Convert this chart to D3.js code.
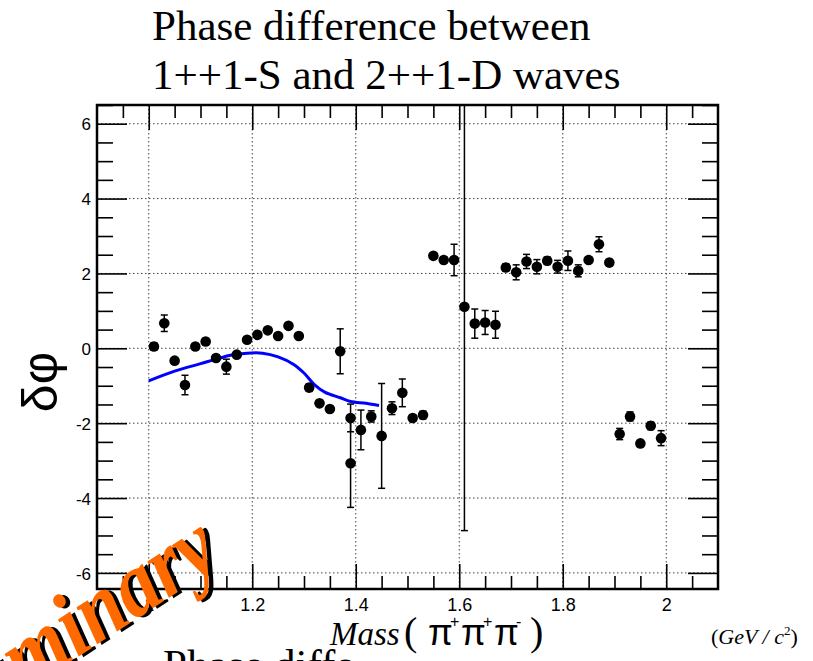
<!DOCTYPE html>
<html>
<head>
<meta charset="utf-8">
<script src="https://cdn.jsdelivr.net/npm/d3@7"></script>
<style>
  html, body { margin: 0; padding: 0; background: #fff; }
  svg { display: block; }
</style>
</head>
<body>
<svg id="chart" width="813" height="661"></svg>
<script>
// ---------------- data ----------------
const titleLines = ["Phase difference between", "1++1-S and 2++1-D waves"];
const xTickValues = [1, 1.2, 1.4, 1.6, 1.8, 2];
const xTickLabels = ["1", "1.2", "1.4", "1.6", "1.8", "2"];
const yTickValues = [-6, -4, -2, 0, 2, 4, 6];
const yTickLabels = ["-6", "-4", "-2", "0", "2", "4", "6"];

const massPoints = [1.01, 1.03, 1.05, 1.07, 1.09, 1.11, 1.13, 1.15, 1.17, 1.19,
  1.21, 1.23, 1.25, 1.27, 1.29, 1.31, 1.33, 1.35, 1.37, 1.39, 1.39,
  1.41, 1.43, 1.45, 1.47, 1.49, 1.51, 1.53, 1.55, 1.57, 1.59,
  1.61, 1.63, 1.65, 1.67, 1.69, 1.71, 1.73, 1.75, 1.77, 1.79,
  1.81, 1.83, 1.85, 1.87, 1.89, 1.91, 1.93, 1.95, 1.97, 1.99];
const phasePoints = [0.05, 0.67, -0.33, -0.98, 0.05, 0.18, -0.26, -0.49, -0.17, 0.23,
  0.36, 0.48, 0.33, 0.60, 0.33, -1.05, -1.47, -1.62, -0.08, -1.86, -3.07,
  -2.18, -1.82, -2.34, -1.60, -1.19, -1.86, -1.78, 2.47, 2.36, 2.36,
  1.11, 0.66, 0.69, 0.63, 2.16, 2.03, 2.32, 2.18, 2.34, 2.18,
  2.34, 2.07, 2.36, 2.78, 2.29, -2.29, -1.82, -2.54, -2.07, -2.40];
const phaseErrors = [0.10, 0.22, 0.08, 0.26, 0.06, 0.08, 0.08, 0.20, 0.06, 0.06,
  0.06, 0.06, 0.06, 0.08, 0.06, 0.10, 0.08, 0.08, 0.60, 0.37, 1.18,
  0.53, 0.15, 1.40, 0.17, 0.37, 0.08, 0.10, 0.08, 0.08, 0.42,
  5.98, 0.39, 0.32, 0.36, 0.10, 0.20, 0.19, 0.19, 0.10, 0.17,
  0.26, 0.16, 0.08, 0.20, 0.08, 0.15, 0.12, 0.08, 0.10, 0.20];

const fitMass = [1.00, 1.05, 1.10, 1.13, 1.16, 1.19, 1.22, 1.25, 1.28, 1.30,
  1.32, 1.34, 1.37, 1.39, 1.42, 1.445];
const fitPhase = [-0.87, -0.61, -0.41, -0.29, -0.18, -0.13, -0.13, -0.23, -0.43, -0.66,
  -0.97, -1.17, -1.32, -1.42, -1.47, -1.53];

// ---------------- layout ----------------
const svg = d3.select("#chart");
const L = 97, R = 718, T = 105, B = 589;
const x = d3.scaleLinear().domain([0.9, 2.1]).range([L, R]);
const y = d3.scaleLinear().domain([-6.43, 6.5]).range([B, T]);
const serif = "'Liberation Serif', 'Times New Roman', serif";
const sans = "'Liberation Sans', Arial, sans-serif";

svg.append("rect").attr("width", 813).attr("height", 661).attr("fill", "#fff");

// title
svg.append("g").selectAll("text").data(titleLines).join("text")
  .attr("x", 152).attr("y", (d, i) => 39.5 + i * 49.5)
  .attr("font-family", serif)
  .attr("font-size", 43).attr("fill", "#000").text(d => d);

// clipped second title at bottom (partly hidden behind the axis-title box)
svg.append("text").attr("x", 163).attr("y", 679)
  .attr("font-family", serif)
  .attr("font-size", 43).attr("fill", "#000").text(titleLines[0]);
svg.append("rect").attr("x", 352).attr("y", 608).attr("width", 300).attr("height", 53)
  .attr("fill", "#fff");

// grid
const grid = svg.append("g").attr("stroke", "#444").attr("stroke-width", 1)
  .attr("stroke-dasharray", "1.5,2.5");
grid.selectAll(".gx").data(xTickValues).join("line")
  .attr("x1", d => x(d)).attr("x2", d => x(d)).attr("y1", T).attr("y2", B);
grid.selectAll(".gy").data(yTickValues).join("line")
  .attr("y1", d => y(d)).attr("y2", d => y(d)).attr("x1", L).attr("x2", R);

// axes with D3
const xMinor = d3.range(0.95, 2.1, 0.05).map(v => +v.toFixed(2)).filter(v => !xTickValues.some(t => Math.abs(t - v) < 1e-6));
const yMinor = d3.range(-6, 6.51, 0.5).filter(v => !yTickValues.includes(v));

function styleAxis(g) {
  g.select(".domain").remove();
  g.selectAll(".tick line").attr("stroke", "#000").attr("stroke-width", 1.6);
}
svg.append("g").attr("transform", `translate(0,${B})`)
  .call(d3.axisBottom(x).tickValues(xTickValues).tickSize(-25).tickPadding(0)
    .tickFormat((d, i) => xTickLabels[i]))
  .call(styleAxis)
  .call(g => g.selectAll(".tick text").attr("y", 22).attr("dy", 0)
    .attr("font-family", sans).attr("font-size", 18).attr("fill", "#000"));
svg.append("g").attr("transform", `translate(0,${B})`)
  .call(d3.axisBottom(x).tickValues(xMinor).tickSize(-13).tickFormat(""))
  .call(styleAxis);
svg.append("g").attr("transform", `translate(0,${T})`)
  .call(d3.axisTop(x).tickValues(xTickValues).tickSize(-25).tickFormat(""))
  .call(styleAxis);
svg.append("g").attr("transform", `translate(0,${T})`)
  .call(d3.axisTop(x).tickValues(xMinor).tickSize(-13).tickFormat(""))
  .call(styleAxis);
svg.append("g").attr("transform", `translate(${L},0)`)
  .call(d3.axisLeft(y).tickValues(yTickValues).tickSize(-30).tickPadding(0)
    .tickFormat((d, i) => yTickLabels[i]))
  .call(styleAxis)
  .call(g => g.selectAll(".tick text").attr("x", -6).attr("dy", "0.36em")
    .attr("font-family", sans).attr("font-size", 17).attr("fill", "#000"));
svg.append("g").attr("transform", `translate(${L},0)`)
  .call(d3.axisLeft(y).tickValues(yMinor).tickSize(-16).tickFormat(""))
  .call(styleAxis);
svg.append("g").attr("transform", `translate(${R},0)`)
  .call(d3.axisRight(y).tickValues(yTickValues).tickSize(-30).tickFormat(""))
  .call(styleAxis);
svg.append("g").attr("transform", `translate(${R},0)`)
  .call(d3.axisRight(y).tickValues(yMinor).tickSize(-16).tickFormat(""))
  .call(styleAxis);

// clip
svg.append("clipPath").attr("id", "plotclip").append("rect")
  .attr("x", L).attr("y", T).attr("width", R - L).attr("height", B - T);
const plot = svg.append("g").attr("clip-path", "url(#plotclip)");

// fit curve
const fitData = fitMass.map((m, i) => [m, fitPhase[i]]);
plot.append("path").datum(fitData)
  .attr("fill", "none").attr("stroke", "#0000ff").attr("stroke-width", 3)
  .attr("d", d3.line().x(d => x(d[0])).y(d => y(d[1])).curve(d3.curveCatmullRom));

// points
const pts = massPoints.map((m, i) => ({ m, v: phasePoints[i], e: phaseErrors[i] }));
const eb = plot.append("g").attr("stroke", "#000").attr("stroke-width", 1.5);
eb.selectAll(".v").data(pts).join("line")
  .attr("x1", d => x(d.m)).attr("x2", d => x(d.m))
  .attr("y1", d => y(d.v + d.e)).attr("y2", d => y(d.v - d.e));
eb.selectAll(".ct").data(pts).join("line")
  .attr("x1", d => x(d.m) - 3.5).attr("x2", d => x(d.m) + 3.5)
  .attr("y1", d => y(d.v + d.e)).attr("y2", d => y(d.v + d.e));
eb.selectAll(".cb").data(pts).join("line")
  .attr("x1", d => x(d.m) - 3.5).attr("x2", d => x(d.m) + 3.5)
  .attr("y1", d => y(d.v - d.e)).attr("y2", d => y(d.v - d.e));
plot.append("g").selectAll("circle").data(pts).join("circle")
  .attr("cx", d => x(d.m)).attr("cy", d => y(d.v)).attr("r", 5.3).attr("fill", "#000");

// frame
svg.append("rect").attr("x", L).attr("y", T).attr("width", R - L).attr("height", B - T)
  .attr("fill", "none").attr("stroke", "#000").attr("stroke-width", 2.5);

// y title
svg.append("text").attr("transform", "translate(57,382) rotate(-90)")
  .attr("text-anchor", "middle")
  .attr("font-family", sans).attr("font-size", 50)
  .attr("fill", "#000").text("δφ");

// x title
const xt = svg.append("g").attr("fill", "#000");
xt.append("text").attr("x", 330).attr("y", 645).attr("font-family", serif)
  .attr("font-style", "italic").attr("font-size", 33).text("Mass");
xt.append("text").attr("x", 404).attr("y", 645).attr("font-family", serif)
  .attr("font-size", 40).text("(");
const pions = [["π", "+"], ["π", "+"], ["π", "-"]];
pions.forEach((p, i) => {
  const x0 = 428 + i * 33;
  xt.append("text").attr("x", x0).attr("y", 645).attr("font-family", sans)
    .attr("font-size", 36).text(p[0]);
  xt.append("text").attr("x", x0 + 22).attr("y", 627).attr("font-family", sans)
    .attr("font-size", 16).text(p[1]);
});
xt.append("text").attr("x", 530).attr("y", 645).attr("font-family", serif)
  .attr("font-size", 40).text(")");
const unit = xt.append("text").attr("x", 711).attr("y", 644).attr("font-family", serif)
  .attr("font-size", 22);
unit.append("tspan").text("(");
unit.append("tspan").attr("font-style", "italic").text("GeV / c");
unit.append("tspan").attr("font-size", 13).attr("dy", -9).text("2");
unit.append("tspan").attr("dy", 9).text(")");

// Preliminary watermark
const prelim = svg.append("g").attr("transform", "translate(224,562) rotate(-33) scale(0.88,1)");
prelim.append("text").attr("x", 4).attr("y", 3).attr("text-anchor", "end")
  .attr("font-family", serif).attr("font-style", "italic").attr("font-weight", "bold")
  .attr("font-size", 92).attr("fill", "#000").text("Preliminary");
prelim.append("text").attr("x", 0).attr("y", 0).attr("text-anchor", "end")
  .attr("font-family", serif).attr("font-style", "italic").attr("font-weight", "bold")
  .attr("font-size", 92).attr("fill", "#ff6a00").text("Preliminary");
</script>
</body>
</html>
